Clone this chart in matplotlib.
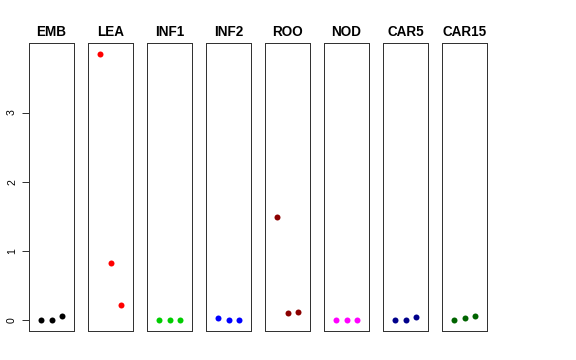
import matplotlib
matplotlib.use("Agg")
import matplotlib.pyplot as plt

plt.rcParams['font.family'] = ['Liberation Sans', 'DejaVu Sans']

# tissues and their three replicate values
tissues = ["EMB", "LEA", "INF1", "INF2", "ROO", "NOD", "CAR5", "CAR15"]
colors = ["black", "red", "#00CD00", "blue", "#8B0000", "magenta", "#00008B", "#006400"]
values = [
    [0.0, 0.0, 0.06],
    [3.85, 0.83, 0.22],
    [0.0, 0.0, 0.0],
    [0.04, 0.0, 0.0],
    [1.49, 0.10, 0.12],
    [0.0, 0.0, 0.0],
    [0.0, 0.0, 0.05],
    [0.0, 0.04, 0.06],
]
reps = [1, 2, 3]
yticks = [0, 1, 2, 3]

W, H = 576, 360
fig = plt.figure(figsize=(W / 72, H / 72), dpi=72)

ymax = max(max(v) for v in values)
pad = 0.04 * ymax
for i, (name, col, vals) in enumerate(zip(tissues, colors, values)):
    left = 29 + 59 * i
    ax = fig.add_axes([left / W, 1 - 331 / H, 45 / W, (331 - 43) / H])
    ax.plot(reps, vals, 'o', color=col, ms=6, mec='none')
    ax.set_xlim(-0.16, 4.16)
    ax.set_ylim(-pad, ymax + pad)
    ax.set_xticks([])
    ax.set_title(name, fontsize=13.5, fontweight='bold', pad=7)
    for s in ax.spines.values():
        s.set_color('#333333')
        s.set_linewidth(1)
    if i == 0:
        ax.set_yticks(yticks)
        ax.set_yticklabels([str(t) for t in yticks], rotation=90, va='center', fontsize=10.5)
        ax.tick_params(axis='y', length=7, pad=5)
    else:
        ax.set_yticks([])

fig.savefig("out.png", dpi=72)
